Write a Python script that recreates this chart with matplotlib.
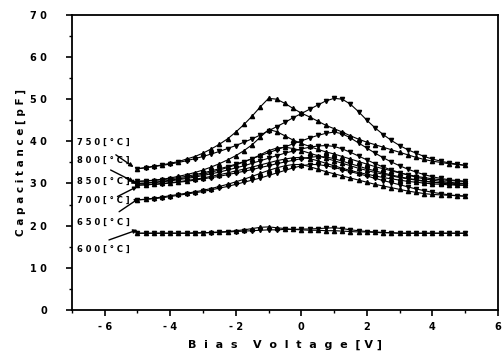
import matplotlib
matplotlib.use("Agg")
import matplotlib.pyplot as plt

plt.rcParams['font.family'] = ['DejaVu Sans']

bias = [-5, -4.75, -4.5, -4.25, -4, -3.75, -3.5, -3.25, -3, -2.75, -2.5, -2.25, -2, -1.75, -1.5,
        -1.25, -1, -0.75, -0.5, -0.25, 0, 0.25, 0.5, 0.75, 1, 1.25, 1.5, 1.75, 2, 2.25, 2.5, 2.75,
        3, 3.25, 3.5, 3.75, 4, 4.25, 4.5, 4.75, 5]

# forward sweep (up triangles) and reverse sweep (down triangles) per annealing temperature
c750_up = [33.5, 33.8, 34.1, 34.4, 34.8, 35.2, 35.8, 36.4, 37.2, 38.2, 39.3, 40.6, 42.2, 44.0, 46.0,
           48.2, 50.2, 50.0, 49.0, 47.8, 46.7, 45.8, 44.8, 43.8, 43.0, 42.2, 41.3, 40.5, 39.8, 39.2,
           38.6, 38.0, 37.4, 36.8, 36.2, 35.7, 35.3, 35.0, 34.7, 34.5, 34.3]
c750_dn = [33.5, 33.7, 34.0, 34.3, 34.6, 35.0, 35.4, 35.9, 36.4, 37.0, 37.6, 38.3, 39.0, 39.8, 40.6,
           41.5, 42.5, 43.5, 44.5, 45.6, 46.6, 47.6, 48.6, 49.6, 50.2, 50.0, 48.8, 47.0, 45.0, 43.2,
           41.6, 40.2, 39.0, 38.0, 37.2, 36.4, 35.8, 35.3, 34.9, 34.6, 34.3]
c800_up = [30.5, 30.6, 30.8, 31.0, 31.3, 31.7, 32.1, 32.6, 33.2, 33.9, 34.7, 35.6, 36.6, 37.8, 39.2,
           41.0, 42.8, 42.3, 41.3, 40.3, 39.5, 38.8, 38.1, 37.5, 37.0, 36.4, 35.8, 35.2, 34.6, 34.0,
           33.5, 33.0, 32.5, 32.1, 31.7, 31.4, 31.1, 30.9, 30.7, 30.6, 30.5]
c800_dn = [30.5, 30.6, 30.7, 30.9, 31.1, 31.4, 31.7, 32.1, 32.5, 33.0, 33.5, 34.0, 34.6, 35.2, 35.9,
           36.6, 37.3, 38.0, 38.7, 39.4, 40.1, 40.8, 41.4, 41.9, 42.2, 41.8, 40.8, 39.6, 38.4, 37.2,
           36.1, 35.1, 34.2, 33.4, 32.7, 32.1, 31.6, 31.2, 30.9, 30.7, 30.5]
c850_up = [30.0, 30.1, 30.3, 30.5, 30.8, 31.1, 31.4, 31.8, 32.2, 32.7, 33.2, 33.8, 34.4, 35.1, 35.9,
           36.8, 37.8, 38.4, 38.6, 38.3, 37.8, 37.2, 36.6, 36.0, 35.4, 34.8, 34.2, 33.6, 33.1, 32.6,
           32.2, 31.8, 31.4, 31.1, 30.8, 30.5, 30.3, 30.2, 30.1, 30.0, 30.0]
c850_dn = [30.0, 30.1, 30.2, 30.4, 30.6, 30.9, 31.2, 31.5, 31.9, 32.3, 32.7, 33.2, 33.7, 34.2, 34.8,
           35.4, 36.0, 36.6, 37.2, 37.7, 38.2, 38.6, 38.9, 39.0, 38.8, 38.2, 37.4, 36.5, 35.6, 34.7,
           33.9, 33.2, 32.6, 32.0, 31.5, 31.1, 30.8, 30.5, 30.3, 30.1, 30.0]
c700_up = [29.6, 29.7, 29.8, 30.0, 30.2, 30.4, 30.7, 31.0, 31.3, 31.7, 32.1, 32.5, 33.0, 33.4, 33.9,
           34.4, 34.9, 35.4, 35.8, 36.1, 36.2, 35.9, 35.4, 34.8, 34.2, 33.6, 33.1, 32.6, 32.2, 31.8,
           31.4, 31.1, 30.8, 30.5, 30.3, 30.1, 29.9, 29.8, 29.7, 29.6, 29.6]
c700_dn = [29.6, 29.7, 29.8, 29.9, 30.1, 30.3, 30.5, 30.8, 31.1, 31.4, 31.7, 32.1, 32.5, 32.9, 33.3,
           33.8, 34.2, 34.7, 35.1, 35.5, 35.9, 36.2, 36.4, 36.3, 35.9, 35.3, 34.7, 34.1, 33.5, 33.0,
           32.5, 32.0, 31.6, 31.2, 30.9, 30.6, 30.3, 30.1, 29.9, 29.7, 29.6]
c650_up = [26.1, 26.3, 26.5, 26.8, 27.1, 27.4, 27.7, 28.0, 28.4, 28.8, 29.3, 29.8, 30.4, 31.0, 31.7,
           32.4, 33.1, 33.7, 34.2, 34.5, 34.5, 34.0, 33.4, 32.8, 32.3, 31.8, 31.3, 30.8, 30.3, 29.8,
           29.4, 29.0, 28.6, 28.2, 27.9, 27.6, 27.4, 27.3, 27.2, 27.1, 27.0]
c650_dn = [26.1, 26.2, 26.4, 26.6, 26.9, 27.2, 27.5, 27.8, 28.1, 28.5, 28.9, 29.3, 29.8, 30.3, 30.8,
           31.3, 31.9, 32.5, 33.1, 33.7, 34.2, 34.5, 34.5, 34.2, 33.8, 33.3, 32.8, 32.3, 31.8, 31.2,
           30.7, 30.2, 29.7, 29.2, 28.7, 28.3, 27.9, 27.6, 27.3, 27.1, 27.0]
c600_up = [18.2, 18.2, 18.2, 18.2, 18.2, 18.2, 18.2, 18.3, 18.3, 18.4, 18.5, 18.6, 18.8, 19.0, 19.3,
           19.6, 19.7, 19.5, 19.3, 19.1, 19.0, 18.9, 18.9, 18.8, 18.8, 18.7, 18.6, 18.5, 18.5, 18.4,
           18.3, 18.3, 18.2, 18.2, 18.2, 18.2, 18.2, 18.2, 18.2, 18.2, 18.2]
c600_dn = [18.2, 18.2, 18.2, 18.2, 18.2, 18.2, 18.2, 18.2, 18.3, 18.3, 18.4, 18.5, 18.6, 18.7, 18.8,
           18.9, 19.0, 19.0, 19.1, 19.1, 19.2, 19.2, 19.3, 19.4, 19.5, 19.3, 19.0, 18.8, 18.6, 18.5,
           18.4, 18.3, 18.2, 18.2, 18.2, 18.2, 18.2, 18.2, 18.2, 18.2, 18.2]

up_series = [c750_up, c800_up, c850_up, c700_up, c650_up, c600_up]
dn_series = [c750_dn, c800_dn, c850_dn, c700_dn, c650_dn, c600_dn]

temp_labels = ["7 5 0 [ ° C ]", "8 0 0 [ ° C ]", "8 5 0 [ ° C ]", "7 0 0 [ ° C ]", "6 5 0 [ ° C ]", "6 0 0 [ ° C ]"]
label_y = [39.8, 35.4, 30.4, 26.0, 20.8, 14.4]
arrow_from = [(-5.66, 36.8), (-5.82, 33.2), (-5.36, 31.3), (-5.61, 26.9), (-5.56, 23.3), (-5.87, 16.6)]
arrow_to = [(-5.12, 33.9), (-5.11, 30.4), (-5.02, 29.9), (-5.0, 29.3), (-4.95, 26.5), (-5.0, 19.0)]

xticks = [-6, -4, -2, 0, 2, 4, 6]
xtick_labels = ["- 6", "- 4", "- 2", "0", "2", "4", "6"]
yticks = [0, 10, 20, 30, 40, 50, 60, 70]
ytick_labels = ["0", "1 0", "2 0", "3 0", "4 0", "5 0", "6 0", "7 0"]

fig = plt.figure(figsize=(5.03, 3.55), dpi=100)
ax = fig.add_axes([0.143, 0.127, 0.847, 0.831])

for up, dn in zip(up_series, dn_series):
    ax.plot(bias, up, color='black', lw=0.8, marker='^', ms=3.0, mec='black', mfc='black')
    ax.plot(bias, dn, color='black', lw=0.8, marker='v', ms=3.0, mec='black', mfc='black')

for lab, yy in zip(temp_labels, label_y):
    ax.text(-6.86, yy, lab, fontsize=6, fontweight='bold', ha='left', va='center')

for p0, p1 in zip(arrow_from, arrow_to):
    ax.annotate("", xy=p1, xytext=p0,
                arrowprops=dict(arrowstyle='-|>', color='black', lw=1.0,
                                mutation_scale=6, shrinkA=0, shrinkB=0))

ax.set_xlim(-7, 6)
ax.set_ylim(0, 70)
ax.set_xticks(xticks)
ax.set_xticklabels(xtick_labels)
ax.set_yticks(yticks)
ax.set_yticklabels(ytick_labels)
ax.set_xticks([-7, -5, -3, -1, 1, 3, 5], minor=True)
ax.set_yticks([5, 15, 25, 35, 45, 55, 65], minor=True)
ax.tick_params(axis='both', which='major', direction='out', length=4, width=1.2,
               labelsize=7)
ax.tick_params(axis='both', which='minor', direction='out', length=2.5, width=1.0)
ax.tick_params(axis='y', pad=14)
ax.tick_params(axis='x', pad=5)
for lbl in ax.get_xticklabels() + ax.get_yticklabels():
    lbl.set_fontweight('bold')
for s in ax.spines.values():
    s.set_linewidth(1.3)

ax.set_xlabel("B  i  a  s    V  o  l  t  a  g  e  [ V ]", fontsize=8, fontweight='bold', labelpad=5)
ax.set_ylabel("C a p a c i t a n c e [ p F ]", fontsize=7.5, fontweight='bold', labelpad=3)

fig.savefig("out.png", dpi=100)
